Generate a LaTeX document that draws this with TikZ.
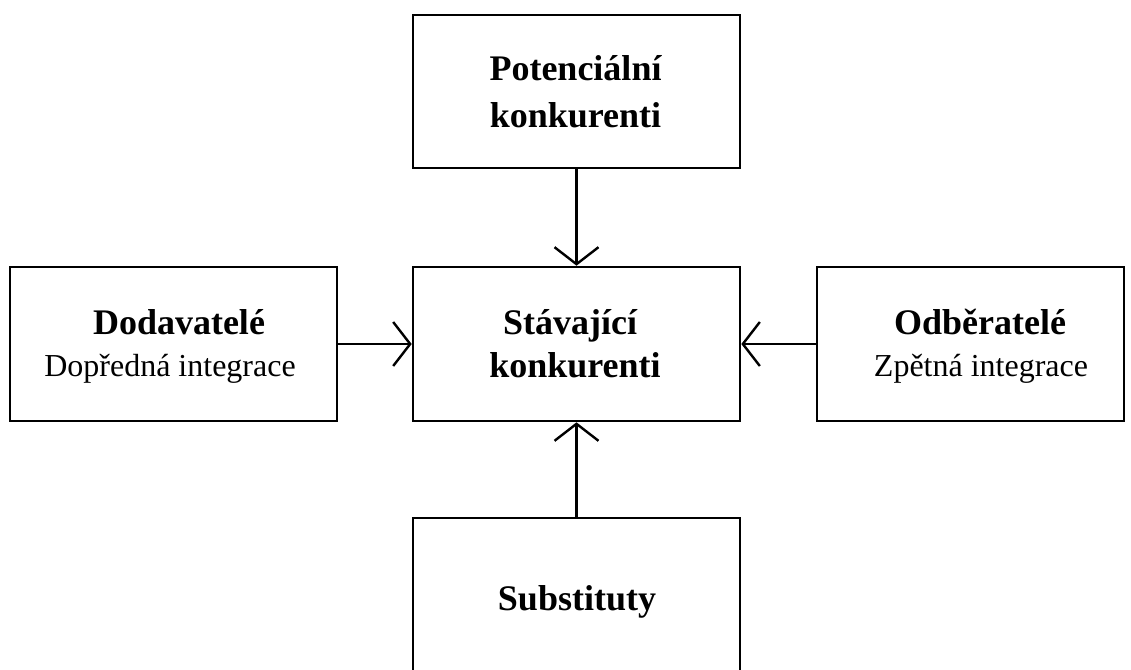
\documentclass[tikz,border=0pt]{standalone}
\usepackage{fontspec}
\setmainfont{Liberation Serif}
\usetikzlibrary{arrows.meta}
\tikzset{
  box/.style={draw=black, line width=2.6pt, inner sep=0pt, fill=none},
  boldtxt/.style={anchor=base, inner sep=0pt, font=\fontsize{36}{42}\selectfont\bfseries},
  regtxt/.style={anchor=base, inner sep=0pt, font=\fontsize{32}{38}\selectfont},
  conn/.style={line width=2.4pt, -{Straight Barb[length=17pt,width=44pt,line width=2.4pt]}}
}
\begin{document}
\begin{tikzpicture}[x=1pt,y=-1pt]
\path[use as bounding box] (0,0) rectangle (1131,669);
\clip (0,0) rectangle (1131,669);
\fill[white] (0,0) rectangle (1131,669);
% boxes
\node[box, minimum width=327pt, minimum height=153pt] (top) at (576.5,91.5) {};
\node[box, minimum width=327pt, minimum height=154pt] (mid) at (576.5,344) {};
\node[box, minimum width=327pt, minimum height=154pt] (left) at (173.5,344) {};
\node[box, minimum width=307pt, minimum height=154pt] (right) at (970.5,344) {};
\node[box, minimum width=327pt, minimum height=156pt] (bot) at (576.5,596) {};
% texts
\node[boldtxt] (t1) at (575.5,81) {Potenciální};
\node[boldtxt] (t2) at (575.5,127) {konkurenti};
\node[boldtxt] (m1) at (570,334) {Stávající};
\node[boldtxt] (m2) at (575,377) {konkurenti};
\node[boldtxt] (l1) at (179,334) {Dodavatelé};
\node[regtxt] (l2) at (170,376) {Dopředná integrace};
\node[boldtxt] (r1) at (980,334) {Odběratelé};
\node[regtxt] (r2) at (981,376) {Zpětná integrace};
\node[boldtxt] (b1) at (577,610) {Substituty};
% connectors
\draw[conn] (top.south) -- (mid.north);
\draw[conn] (left.east) -- (mid.west);
\draw[conn] (right.west) -- (mid.east);
\draw[conn] (bot.north) -- (mid.south);
\end{tikzpicture}
\end{document}
